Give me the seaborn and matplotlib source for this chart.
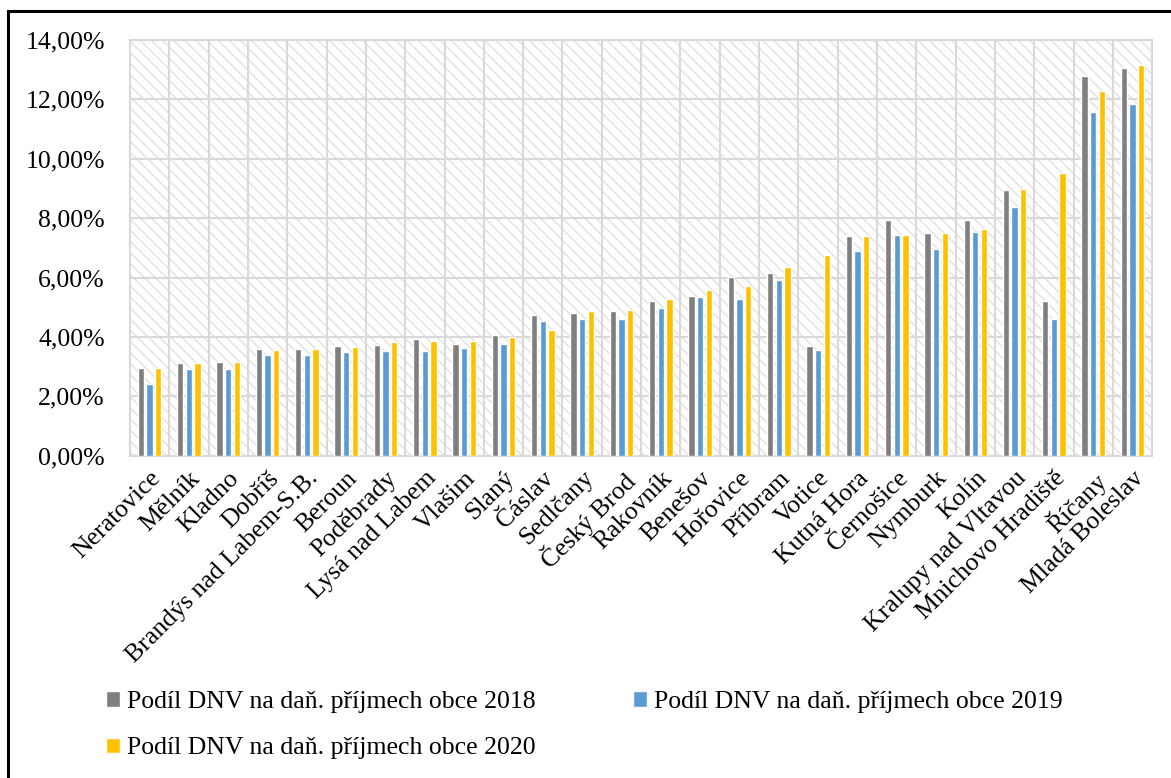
import pandas as pd
import seaborn as sns
import matplotlib.pyplot as plt
from matplotlib.patches import Rectangle
from matplotlib.ticker import FuncFormatter

# data (share in %)
obce = ['Neratovice', 'Mělník', 'Kladno', 'Dobříš', 'Brandýs nad Labem-S.B.', 'Beroun',
        'Poděbrady', 'Lysá nad Labem', 'Vlašim', 'Slaný', 'Čáslav', 'Sedlčany', 'Český Brod',
        'Rakovník', 'Benešov', 'Hořovice', 'Příbram', 'Votice', 'Kutná Hora', 'Černošice',
        'Nymburk', 'Kolín', 'Kralupy nad Vltavou', 'Mnichovo Hradiště', 'Říčany', 'Mladá Boleslav']
podil_2018 = [2.96, 3.13, 3.15, 3.58, 3.61, 3.71, 3.72, 3.94, 3.78, 4.05, 4.73, 4.81, 4.89,
              5.22, 5.39, 6.02, 6.15, 3.71, 7.38, 7.93, 7.51, 7.94, 8.94, 5.20, 12.78, 13.04]
podil_2019 = [2.43, 2.93, 2.91, 3.38, 3.41, 3.48, 3.52, 3.52, 3.64, 3.75, 4.55, 4.61, 4.62,
              4.96, 5.34, 5.28, 5.90, 3.55, 6.88, 7.44, 6.97, 7.52, 8.36, 4.62, 11.58, 11.83]
podil_2020 = [2.95, 3.13, 3.15, 3.56, 3.61, 3.65, 3.83, 3.86, 3.88, 4.01, 4.25, 4.89, 4.92,
              5.29, 5.59, 5.71, 6.34, 6.77, 7.41, 7.44, 7.51, 7.64, 8.98, 9.51, 12.27, 13.15]
labels = ['Podíl DNV na daň. příjmech obce 2018',
          'Podíl DNV na daň. příjmech obce 2019',
          'Podíl DNV na daň. příjmech obce 2020']
colors = ['#7f7f7f', '#5b9bd5', '#ffc000']

df = pd.DataFrame({'obec': obce * 3,
                   'rada': [labels[0]] * len(obce) + [labels[1]] * len(obce) + [labels[2]] * len(obce),
                   'hodnota': [v / 100 for v in podil_2018 + podil_2019 + podil_2020]})

sns.set_style('white')
plt.rcParams['font.family'] = ['Liberation Serif', 'DejaVu Serif']
plt.rcParams['text.color'] = 'black'
plt.rcParams['xtick.color'] = 'black'
plt.rcParams['ytick.color'] = 'black'

fig = plt.figure(figsize=(11.71, 7.78), dpi=100)
ax = fig.add_axes([0.111, 0.414, 0.873, 0.535])

# hatched background of the plot area
ax.add_patch(Rectangle((0, 0), 1, 1, transform=ax.transAxes, facecolor='white',
                       edgecolor='#e2e2e2', hatch='\\\\\\', linewidth=0, zorder=0))

sns.barplot(data=df, x='obec', y='hodnota', hue='rada', palette=colors, ax=ax,
            width=0.66, gap=0.27, saturation=1, zorder=3)

ax.set_ylim(0, 0.14)
ax.set_yticks([i * 0.02 for i in range(8)])
ax.yaxis.set_major_formatter(FuncFormatter(lambda v, p: f'{v * 100:.2f}%'.replace('.', ',')))
ax.set_xlim(-0.5, len(obce) - 0.5)
ax.set_xticks(range(len(obce)))
ax.set_xticks([i + 0.5 for i in range(len(obce) - 1)], minor=True)
ax.grid(True, which='major', axis='y', color='#d9d9d9', linewidth=1.5, zorder=1)
ax.grid(True, which='minor', axis='x', color='#d9d9d9', linewidth=1.5, zorder=1)
ax.set_axisbelow(True)
ax.tick_params(axis='both', which='both', length=0, labelsize=18.5, labelcolor='black')
ax.tick_params(axis='y', pad=18)
ax.set_xticklabels(obce, rotation=45, ha='right', rotation_mode='anchor')
ax.tick_params(axis='x', pad=8)
ax.set_xlabel('')
ax.set_ylabel('')
for s in ax.spines.values():
    s.set_color('#d9d9d9')
    s.set_linewidth(1.5)

# legend below, filled row by row
h, l = ax.get_legend_handles_labels()
ax.get_legend().remove()
order = [0, 2, 1]
leg = fig.legend([h[i] for i in order], [l[i] for i in order], ncol=2, loc='upper left',
                 bbox_to_anchor=(0.082, 0.125), frameon=False, fontsize=18.5,
                 handlelength=0.55, handleheight=0.55, handletextpad=0.25,
                 columnspacing=3.8, labelspacing=0.95, borderaxespad=0)
for t in leg.get_texts():
    t.set_color('black')

# outer frame
fig.add_artist(Rectangle((8 / 1171, -0.05), 1.1, 1.05 - 11 / 778, transform=fig.transFigure,
                         fill=False, edgecolor='black', linewidth=2.2))

fig.savefig('out.png', dpi=100)
